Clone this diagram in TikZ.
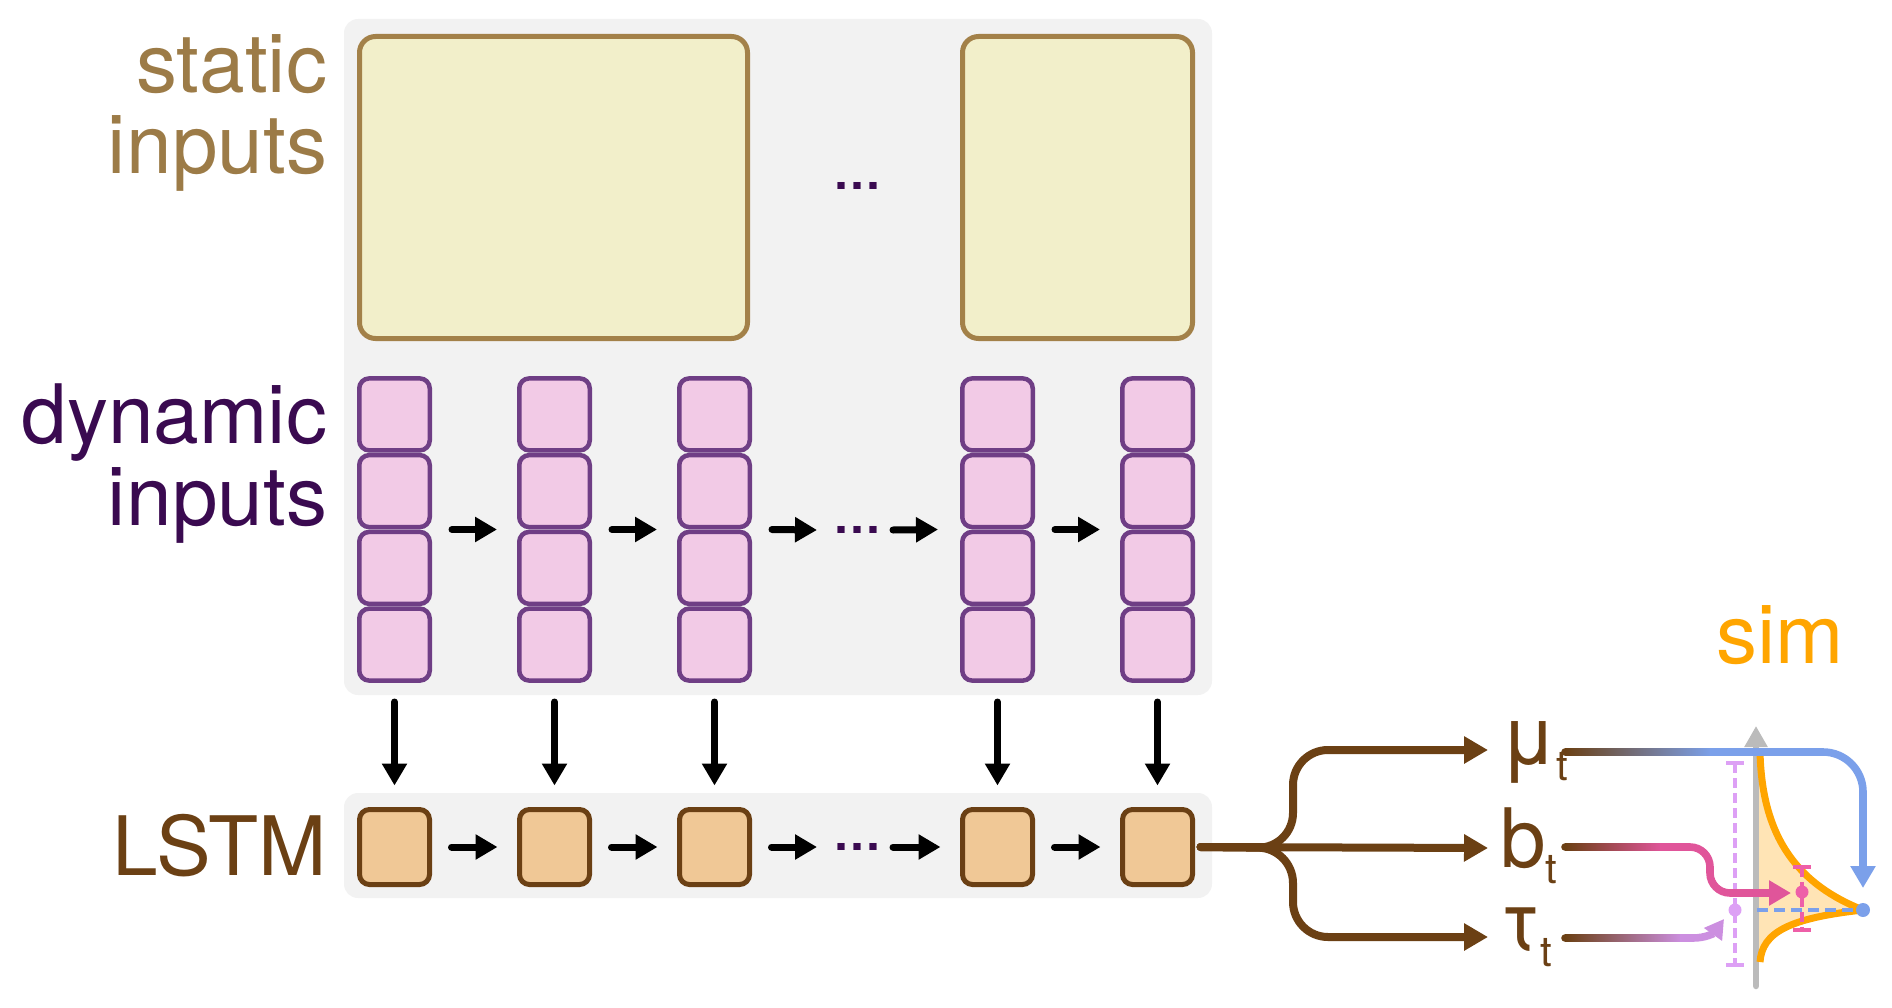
\documentclass[tikz,border=0pt]{standalone}
\usepackage{fontspec}
\setmainfont{TeX Gyre Heros}
\usetikzlibrary{arrows.meta}
\definecolor{panelgray}{HTML}{F2F2F2}
\definecolor{stTxt}{HTML}{9C7B47}
\definecolor{stFill}{HTML}{F2EFCA}
\definecolor{stDraw}{HTML}{A38149}
\definecolor{dyTxt}{HTML}{3A0A50}
\definecolor{dyFill}{HTML}{F2CAE6}
\definecolor{dyDraw}{HTML}{6F3E85}
\definecolor{lsFill}{HTML}{F0C896}
\definecolor{lsDraw}{HTML}{6B4014}
\definecolor{muBlue}{HTML}{7BA0EA}
\definecolor{bPink}{HTML}{E0559A}
\definecolor{tauVio}{HTML}{CC8FE0}
\definecolor{errVio}{HTML}{DDA0F5}
\definecolor{errPink}{HTML}{EE5FA8}
\definecolor{simOr}{HTML}{FFA500}
\definecolor{simFill}{HTML}{FFE4B5}
\definecolor{axGray}{HTML}{BBBBBB}
\newcommand\lblfont{\fontsize{82}{82}\selectfont}
\newcommand\subfont{\fontsize{42}{42}\selectfont}
\newcommand\dotsfont{\fontsize{48}{48}\selectfont\bfseries}
\begin{document}
\begin{tikzpicture}[x=1pt,y=-1pt,
  panel/.style={fill=panelgray, rounded corners=14pt},
  stbox/.style={draw=stDraw, fill=stFill, line width=5pt, rounded corners=16pt, inner sep=0pt, outer sep=0pt},
  dycell/.style={draw=dyDraw, fill=dyFill, line width=4.5pt, rounded corners=10pt, minimum width=70.5pt, minimum height=72pt, inner sep=0pt, outer sep=0pt},
  dycol/.style={minimum width=75pt, minimum height=307pt, inner sep=0pt, outer sep=0pt},
  lsbox/.style={draw=lsDraw, fill=lsFill, line width=5pt, rounded corners=10pt, minimum width=70pt, minimum height=75pt, inner sep=0pt, outer sep=0pt},
  dotsnode/.style={inner sep=0pt, outer sep=0pt, text height=6pt, text depth=0pt, font=\dotsfont, text=dyTxt},
  harrow/.style={line width=7pt, line cap=round, -{Triangle[length=22pt,width=24pt]}},
  brarrow/.style={draw=lsDraw, line width=8pt, line cap=round, -{Triangle[length=24pt,width=26pt]}},
  lbl/.style={inner sep=0pt, outer sep=0pt, font=\lblfont},
  errbar/.style={line width=4pt, dash pattern=on 10pt off 5pt},
]
\useasboundingbox (0,0) rectangle (1892,1008);
% panels
\fill[panel] (344,19) rectangle (1212,695);
\fill[panel] (344,793) rectangle (1212,898);
% left labels
\node[lbl, anchor=base east, text=stTxt] (st1) at (327,93) {static};
\node[lbl, anchor=base east, text=stTxt] (st2) at (327,174) {inputs};
\node[lbl, anchor=base east, text=dyTxt] (dy1) at (327,443) {dynamic};
\node[lbl, anchor=base east, text=dyTxt] (dy2) at (327,525) {inputs};
\node[lbl, anchor=base east, text=lsDraw] (ls) at (327,875) {LSTM};
% static boxes
\node[stbox, minimum width=388pt, minimum height=302pt] (sb1) at (553.5,187.5) {};
\node[stbox, minimum width=230pt, minimum height=302pt] (sb2) at (1077.5,187.5) {};
\node[dotsnode] (sdots) at (857,187) {…};
% dynamic columns and LSTM cells
\foreach \x [count=\k] in {394.5,554.5,714.5,997.5,1157.5} {
  \node[dycol] (d\k) at (\x,529.5) {};
  \foreach \yy [count=\j] in {414.4,491.1,567.9,644.6}
    \node[dycell] (d\k-\j) at (\x,\yy) {};
  \node[lsbox] (l\k) at (\x,847) {};
  \draw[harrow] ([yshift=-19pt]d\k.south) -- ([yshift=24pt]l\k.north);
}
\node[dotsnode] (dd) at (857,530) {…};
\node[dotsnode] (ld) at (857,847) {…};
% dynamic arrows
\draw[harrow] ([xshift=20pt]d1.east) -- ([xshift=-20pt]d2.west);
\draw[harrow] ([xshift=20pt]d2.east) -- ([xshift=-20pt]d3.west);
\draw[harrow] ([xshift=20pt]d3.east) -- ([xshift=-16pt]dd.west);
\draw[harrow] ([xshift=12pt]dd.east) -- ([xshift=-22pt]d4.west);
\draw[harrow] ([xshift=20pt]d4.east) -- ([xshift=-20pt]d5.west);
% LSTM arrows
\draw[harrow] ([xshift=22pt]l1.east) -- ([xshift=-22pt]l2.west);
\draw[harrow] ([xshift=22pt]l2.east) -- ([xshift=-22pt]l3.west);
\draw[harrow] ([xshift=22pt]l3.east) -- ([xshift=-16pt]ld.west);
\draw[harrow] ([xshift=12pt]ld.east) -- ([xshift=-22pt]l4.west);
\draw[harrow] ([xshift=22pt]l4.east) -- ([xshift=-22pt]l5.west);
% output labels
\node[lbl, anchor=base west, text=lsDraw] (mu) at (1500,764) {μ\raisebox{-16pt}{\subfont t}};
\node[lbl, anchor=base west, text=lsDraw] (b) at (1500,867) {b\raisebox{-16pt}{\subfont t}};
\node[lbl, anchor=base west, text=lsDraw] (tau) at (1500,950) {τ\raisebox{-16pt}{\subfont t}};
\coordinate (muin) at (1488,750);
\coordinate (bin) at (1488,848);
\coordinate (tauin) at (1488,937);
% branching connector
\draw[brarrow, rounded corners=35pt] ([xshift=8pt]l5.east) -- (1293,848) -- (1293,750) -- (muin);
\draw[brarrow] ([xshift=8pt]l5.east) -- (bin);
\draw[brarrow, rounded corners=35pt] ([xshift=8pt]l5.east) -- (1293,848) -- (1293,937) -- (tauin);
% sim distribution
\node[lbl, anchor=base, text=simOr] (sim) at (1780,663) {sim};
\fill[simFill] (1757,752) -- (1760,752) .. controls (1762,840) and (1800,885) .. (1863,910)
   .. controls (1790,918) and (1762,932) .. (1760,962) -- (1757,962) -- cycle;
\draw[axGray, line width=6.5pt, line cap=round, -{Triangle[length=21pt,width=22pt]}] (1756,986) -- (1756,726);
\draw[simOr, line width=7pt, line join=round] (1760,752) .. controls (1762,840) and (1800,885) .. (1863,910)
   .. controls (1790,918) and (1762,932) .. (1760,962);
\coordinate (mode) at (1863,910);
\draw[muBlue, line width=4.5pt, dash pattern=on 11pt off 6pt] (1757,910) -- (mode);
\fill[muBlue] (mode) circle[radius=7pt];
% error bars
\draw[errVio, errbar] (1735,763) -- (1735,965);
\draw[errVio, line width=4.5pt] (1726,763) -- (1744,763) (1726,965) -- (1744,965);
\fill[errVio] (1735,910) circle[radius=6.5pt];
\draw[errPink, errbar] (1802,867) -- (1802,930);
\draw[errPink, line width=4.5pt] (1793,867) -- (1811,867) (1793,930) -- (1811,930);
\fill[errPink] (1802,892) circle[radius=6.5pt];
% gradient connectors
\coordinate (muout) at (1565,752);
\coordinate (bout) at (1565,847);
\coordinate (tauout) at (1565,938);
\coordinate (mutip) at (1863,888);
\coordinate (btip) at (1791,893);
\coordinate (tautip) at (1724,919);
\fill[lsDraw] (muout) circle[radius=3.8pt];
\fill[lsDraw] (bout) circle[radius=3.8pt];
\fill[lsDraw] (tauout) circle[radius=3.8pt];
\shade[left color=lsDraw, right color=muBlue] (1565,748.2) rectangle (1712,755.8);
\draw[muBlue, line width=7.6pt, rounded corners=40pt, -{Triangle[length=22pt,width=24pt]}] (1710,752) -- (1863,752) -- (mutip);
\shade[left color=lsDraw, right color=bPink] (1565,843.2) rectangle (1662,850.8);
\draw[bPink, line width=7.6pt, rounded corners=20pt, -{Triangle[length=22pt,width=24pt]}] (1660,847) -- (1710,847) -- (1710,893) -- (btip);
\shade[left color=lsDraw, right color=tauVio] (1565,934.2) rectangle (1682,941.8);
\draw[tauVio, line width=7.6pt, -{Triangle[length=19pt,width=21pt]}] (1680,938) -- (1693,938) .. controls (1706,938) and (1714,933) .. (tautip);
\end{tikzpicture}
\end{document}
